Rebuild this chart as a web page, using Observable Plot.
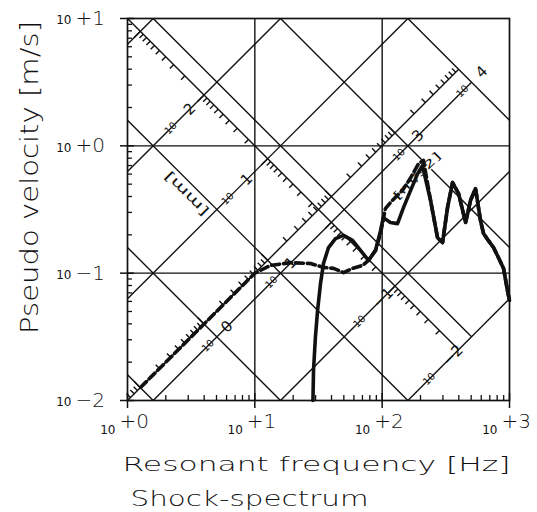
<!DOCTYPE html>
<html><head><meta charset="utf-8">
<script src="https://cdn.jsdelivr.net/npm/d3@7"></script>
<script src="https://cdn.jsdelivr.net/npm/@observablehq/plot@0.6"></script>
<style>body{margin:0;background:#fff}</style>
</head><body><div id="chart"></div>
<script>
// ---- data ----
const freqSolid = [28.6, 28.9, 29.9, 31.1, 32.8, 34.6, 37.9, 43.0, 49.7, 58.5, 67.6, 78.1, 88.7, 97.1, 102, 116, 132, 147, 167, 190, 207, 240, 272, 298, 326, 357, 398, 452, 494, 541, 592, 625, 684, 749, 820, 898, 964, 1000];
const velSolid  = [0.0100, 0.0172, 0.0313, 0.0509, 0.083, 0.119, 0.159, 0.187, 0.198, 0.181, 0.151, 0.126, 0.151, 0.216, 0.273, 0.25, 0.245, 0.327, 0.445, 0.605, 0.70, 0.372, 0.19, 0.174, 0.327, 0.515, 0.422, 0.25, 0.372, 0.462, 0.259, 0.205, 0.18, 0.159, 0.132, 0.109, 0.073, 0.061];
const freqDashed = [1.27, 2, 3, 5, 7, 10, 13.3, 19.1, 27.4, 34.6, 41.5, 49.7, 58.5, 70, 78.1, 88.7, 97, 106, 120, 144, 166, 193, 211, 240, 272, 298, 326, 357, 398, 452, 494, 541, 592, 625, 684, 749, 820, 898, 964, 1000];
const velDashed  = [0.0127, 0.02, 0.03, 0.05, 0.07, 0.1, 0.115, 0.121, 0.119, 0.111, 0.109, 0.101, 0.109, 0.115, 0.126, 0.151, 0.204, 0.321, 0.372, 0.446, 0.553, 0.724, 0.767, 0.372, 0.19, 0.174, 0.327, 0.515, 0.422, 0.25, 0.372, 0.462, 0.259, 0.205, 0.18, 0.159, 0.132, 0.109, 0.073, 0.061];

const xTickValues = [1, 10, 100, 1000];
const xTickExp = ["+0", "+1", "+2", "+3"];
const yTickValues = [0.01, 0.1, 1, 10];
const yTickExp = ["\u22122", "\u22121", "+0", "+1"];

const dispLineExp = [-2, -1, 0, 1, 2, 3];   // displacement lines 10^k mm
const accLineExp = [-1, 0, 1, 2, 3, 4];     // acceleration lines 10^m m/s2
const dispLabelExp = [2, 1, -1, -2];
const dispLabelFreq = [2.57, 7.2, 78, 276];
const accLabelExp = [0, 1, 3, 4];

const xTitle = "Resonant frequency [Hz]";
const yTitle = "Pseudo velocity [m/s]";
const caption = "Shock-spectrum";
const dispUnit = {text: "[mm]", f: 2.9, v: 0.42};
const accUnit = {text: "[m/s2]", f: 188, v: 0.58};

// ---- geometry of the tripartite grid (log space) ----
const L2P = Math.log10(2 * Math.PI);
const X0 = Math.log10(xTickValues[0]), X1 = Math.log10(xTickValues[xTickValues.length - 1]);
const Y0 = Math.log10(yTickValues[0]), Y1 = Math.log10(yTickValues[yTickValues.length - 1]);

function risingSeg(c, limit = Infinity) {
  const a = Math.max(X0, Y0 - c), b = Math.min(X1, Y1 - c, limit);
  return b > a ? {x1: 10 ** a, y1: 10 ** (a + c), x2: 10 ** b, y2: 10 ** (b + c)} : null;
}
function fallingSeg(s, limit = Infinity) {
  const a = Math.max(X0, s - Y1), b = Math.min(X1, s - Y0, limit);
  return b > a ? {x1: 10 ** a, y1: 10 ** (s - a), x2: 10 ** b, y2: 10 ** (s - b)} : null;
}
const cR = Y0 - X0;           // rising ruler (diagonal)
const sR = Y1 + X0;           // falling ruler (diagonal)
const sMax = Math.max(...accLineExp) - L2P;
const cMin = L2P + Math.min(...dispLineExp) - 3;
const risingLimit = c => (sMax - c) / 2;
const fallingLimit = s => (s - cMin) / 2;
const partnerK = Math.floor(cR - L2P + 3);
const partnerM = Math.ceil(sR + L2P);

const segs = [];
for (const k of dispLineExp) {
  const c = L2P + k - 3;
  const sg = risingSeg(c, k === partnerK ? risingLimit(c) : Infinity);
  if (sg) segs.push(sg);
}
for (const m of accLineExp) {
  const s = m - L2P;
  const sg = fallingSeg(s, m === partnerM ? fallingLimit(s) : Infinity);
  if (sg) segs.push(sg);
}
segs.push(risingSeg(cR, risingLimit(cR)));
segs.push(fallingSeg(sR, fallingLimit(sR)));

const rulerTicks = [];
for (let m = -3; m <= 5; m++) for (let n = 1; n <= 9; n++) {
  const la = m + Math.log10(n);
  const lf = (la - L2P - cR) / 2;
  if (lf <= X0 + 0.015 || lf >= risingLimit(cR) - 0.01) continue;
  const d = n === 1 ? 0.05 : 0.03, lv = lf + cR;
  rulerTicks.push({x1: 10 ** lf, y1: 10 ** lv, x2: 10 ** (lf - d), y2: 10 ** (lv + d)});
}
for (let k = -4; k <= 4; k++) for (let n = 1; n <= 9; n++) {
  const ld = k + Math.log10(n) - 3;
  const lf = (sR - L2P - ld) / 2;
  if (lf <= X0 + 0.015 || lf >= fallingLimit(sR) - 0.01) continue;
  const d = n === 1 ? 0.05 : 0.03, lv = sR - lf;
  rulerTicks.push({x1: 10 ** lf, y1: 10 ** lv, x2: 10 ** (lf - d), y2: 10 ** (lv - d)});
}

const accLabels = accLabelExp.map(m => {
  const lf = (m - 2 * L2P - (partnerK - 3)) / 2;
  return {f: 10 ** lf, v: 10 ** (m - L2P - lf), e: (m < 0 ? "\u2212" : "") + Math.abs(m)};
});
const dispLabels = dispLabelExp.map((k, i) => ({
  f: dispLabelFreq[i], v: dispLabelFreq[i] * 2 * Math.PI * 10 ** (k - 3), e: (k < 0 ? "\u2212" : "") + Math.abs(k)
}));
const diagLabels = accLabels.concat(dispLabels);

const minorX = [], minorY = [];
for (let e = 0; e < 3; e++) for (let n = 2; n <= 9; n++) minorX.push(n * 10 ** e);
for (let e = -2; e < 1; e++) for (let n = 2; n <= 9; n++) minorY.push(n * 10 ** e);

const solid = freqSolid.map((f, i) => ({f, v: velSolid[i]}));
const dashed = freqDashed.map((f, i) => ({f, v: velDashed[i]}));

const W = 537, H = 512, ML = 127, MR = 28, MT = 18, MB = 112;
const innerW = W - ML - MR, innerH = H - MT - MB;
const ink = "#111";
const FONT = "DejaVu Sans";

const chart = Plot.plot({
  width: W, height: H,
  marginLeft: ML, marginRight: MR, marginTop: MT, marginBottom: MB,
  x: {type: "log", domain: [xTickValues[0], xTickValues[3]], axis: null},
  y: {type: "log", domain: [yTickValues[0], yTickValues[3]], axis: null},
  style: {background: "white", color: ink, fontFamily: FONT},
  marks: [
    Plot.ruleX(xTickValues.slice(1, -1), {stroke: ink, strokeWidth: 1.4}),
    Plot.ruleY(yTickValues.slice(1, -1), {stroke: ink, strokeWidth: 1.4}),
    Plot.link(segs, {x1: "x1", y1: "y1", x2: "x2", y2: "y2", stroke: ink, strokeWidth: 1.4}),
    Plot.link(rulerTicks, {x1: "x1", y1: "y1", x2: "x2", y2: "y2", stroke: ink, strokeWidth: 1.4}),
    // axis ticks
    Plot.tickY(minorY, {y: d => d, insetRight: innerW - 5, stroke: ink, strokeWidth: 1.3}),
    Plot.tickY(yTickValues, {y: d => d, insetLeft: -7, insetRight: innerW - 7, stroke: ink, strokeWidth: 1.5}),
    Plot.tickX(minorX, {x: d => d, insetTop: innerH - 5, stroke: ink, strokeWidth: 1.3}),
    Plot.tickX(xTickValues, {x: d => d, insetBottom: -8, insetTop: innerH - 7, stroke: ink, strokeWidth: 1.5}),
    Plot.frame({stroke: ink, strokeWidth: 1.7}),
    // unit labels on the grid
    Plot.text([dispUnit], {x: "f", y: "v", text: "text", rotate: 225, fontSize: 13, stroke: "white", strokeWidth: 4, fill: ink}),
    Plot.text([accUnit], {x: "f", y: "v", text: "text", rotate: -45, fontSize: 11, stroke: "white", strokeWidth: 3, fill: ink}),
    // diagonal scale labels
    Plot.text(diagLabels, {x: "f", y: "v", text: () => "10\u00a0\u00a0", textAnchor: "end", rotate: -45, fontSize: 10, fill: ink}),
    Plot.text(diagLabels, {x: "f", y: "v", text: d => "\u00a0\u00a0" + d.e, textAnchor: "start", rotate: -45, fontSize: 15, fill: ink}),
    // data curves
    Plot.line(solid, {x: "f", y: "v", stroke: ink, strokeWidth: 3.6, strokeLinejoin: "round"}),
    Plot.line(dashed, {x: "f", y: "v", stroke: ink, strokeWidth: 3.6, strokeDasharray: "8,4"}),
    // tick labels
    Plot.text(yTickValues, {y: d => d, frameAnchor: "left", text: () => "10", textAnchor: "end", dx: -56, dy: 2, fontSize: 12, fill: ink}),
    Plot.text(yTickValues, {y: d => d, frameAnchor: "left", text: (d, i) => yTickExp[i], textAnchor: "start", dx: -52, fontSize: 20, fontWeight: 200, fill: ink}),
    Plot.text(xTickValues, {x: d => d, frameAnchor: "bottom", text: () => "10", textAnchor: "end", dx: -12, dy: 33, fontSize: 12, fill: ink}),
    Plot.text(xTickValues, {x: d => d, frameAnchor: "bottom", text: (d, i) => xTickExp[i], textAnchor: "start", dx: -8, dy: 27, fontSize: 20, fontWeight: 200, fill: ink}),
    // titles
    Plot.text([yTitle], {frameAnchor: "left", text: d => d, textAnchor: "middle", rotate: -90, lineAnchor: "bottom", dx: -90, dy: -32, fontSize: 24, fontWeight: 200, fill: ink}),
    Plot.text([xTitle], {frameAnchor: "bottom", text: d => d, textAnchor: "middle", lineAnchor: "bottom", dx: -2, dy: 70, fontSize: 20, fontWeight: 200, fill: ink}),
    Plot.text([caption], {frameAnchor: "bottom", text: d => d, textAnchor: "middle", lineAnchor: "bottom", dx: -69, dy: 105, fontSize: 22, fontWeight: 200, fill: ink})
  ]
});
document.getElementById("chart").appendChild(chart);

const fit = {};
fit[yTitle] = 313; fit[xTitle] = 388; fit[caption] = 238; fit[dispUnit.text] = 56; fit[accUnit.text] = 62;
d3.select(chart).selectAll("text").each(function () {
  const t = this.textContent;
  if (fit[t]) d3.select(this).attr("textLength", fit[t]).attr("lengthAdjust", "spacingAndGlyphs");
});
</script>
</body></html>
